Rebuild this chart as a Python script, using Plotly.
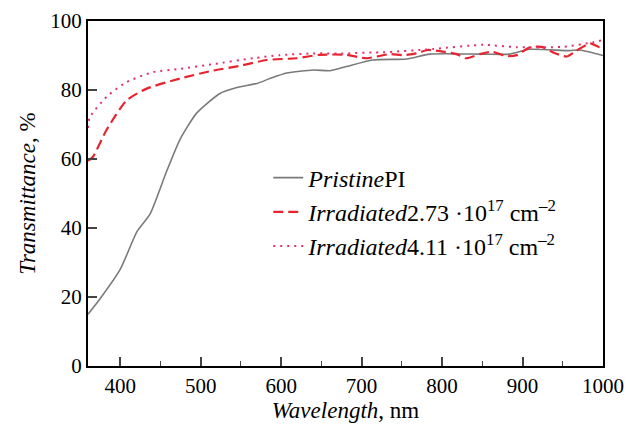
import plotly.graph_objects as go

wl_pristine = [360, 375, 400, 421, 437, 457, 474, 495, 524, 545, 570, 586, 607, 640, 661, 681, 714, 756, 785, 851, 884, 909, 958, 971, 1000]
t_pristine = [15, 19.5, 28, 39, 44, 56, 65.5, 73.3, 79, 80.7, 81.9, 83.3, 84.9, 85.8, 85.6, 86.8, 88.7, 89, 90.4, 90.4, 90.4, 91.8, 91.4, 91.6, 90]

wl_irr1 = [360, 366, 383, 408, 433, 474, 515, 549, 582, 619, 648, 681, 706, 735, 751, 768, 782, 801, 818, 830, 847, 862, 880, 893, 909, 924, 938, 955, 967, 984, 996, 1000]
t_irr1 = [59.5, 60.6, 68.4, 77, 80.4, 83.3, 85.6, 87, 88.7, 89.2, 90.2, 90.2, 89.2, 90.4, 90.1, 90.6, 91.6, 91.1, 90.4, 89.2, 90.4, 91.1, 89.8, 90.1, 92.4, 92.5, 90.9, 89.7, 91.4, 93.5, 92.4, 93]

wl_irr2 = [360, 362, 383, 408, 441, 474, 515, 565, 598, 639, 681, 714, 726, 789, 851, 893, 950, 987, 1000]
t_irr2 = [69, 72, 78, 82.3, 85.2, 86.1, 87.5, 89.2, 90.1, 90.6, 90.6, 90.9, 90.9, 91.9, 93.1, 92.4, 92.5, 93.8, 94.5]

names = ["<i>Pristine</i>PI",
         "<i>Irradiated</i>2.73 ·10<sup>17</sup> cm<sup>–2</sup>",
         "<i>Irradiated</i>4.11 ·10<sup>17</sup> cm<sup>–2</sup>"]

x_ticks = [400, 500, 600, 700, 800, 900, 1000]
y_ticks = [0, 20, 40, 60, 80, 100]

font = "Liberation Serif, Times New Roman, serif"

fig = go.Figure()
fig.add_trace(go.Scatter(x=wl_pristine, y=t_pristine, mode="lines", name=names[0],
                         line=dict(color="#7a7a7a", width=1.6, shape="spline", smoothing=0.6)))
fig.add_trace(go.Scatter(x=wl_irr1, y=t_irr1, mode="lines", name=names[1],
                         line=dict(color="#e8232e", width=2.2, dash="10px,5px", shape="spline", smoothing=0.6)))
fig.add_trace(go.Scatter(x=wl_irr2, y=t_irr2, mode="lines", name=names[2],
                         line=dict(color="#e0306a", width=2, dash="2px,5px", shape="spline", smoothing=0.6)))

fig.update_layout(
    width=639, height=430,
    margin=dict(l=80, r=44, t=13, b=72, autoexpand=False),
    plot_bgcolor="white", paper_bgcolor="white",
    font=dict(family=font, size=21, color="black"),
    showlegend=True,
    legend=dict(x=0.35, y=0.61, xanchor="left", yanchor="top",
                bgcolor="rgba(0,0,0,0)", font=dict(size=24),
                tracegroupgap=0, itemwidth=30),
    xaxis=dict(range=[360, 1000], tickvals=x_ticks, ticks="inside", ticklen=9, tickwidth=1.5,
               showline=True, linewidth=2, linecolor="black", mirror=True, showgrid=False,
               zeroline=False, automargin=False,
               minor=dict(dtick=50, tick0=350, ticks="inside", ticklen=5, tickwidth=1.2),
               title=dict(text="<i>Wavelength</i>, nm", standoff=2, font=dict(size=23))),
    yaxis=dict(range=[0, 100], tickvals=y_ticks, ticks="inside", ticklen=9, tickwidth=1.5,
               showline=True, linewidth=2, linecolor="black", mirror=True, showgrid=False,
               zeroline=False, automargin=False,
               title=dict(text="<i>Transmittance</i>, %", standoff=8, font=dict(size=23))),
)

fig.write_html("out.html")
